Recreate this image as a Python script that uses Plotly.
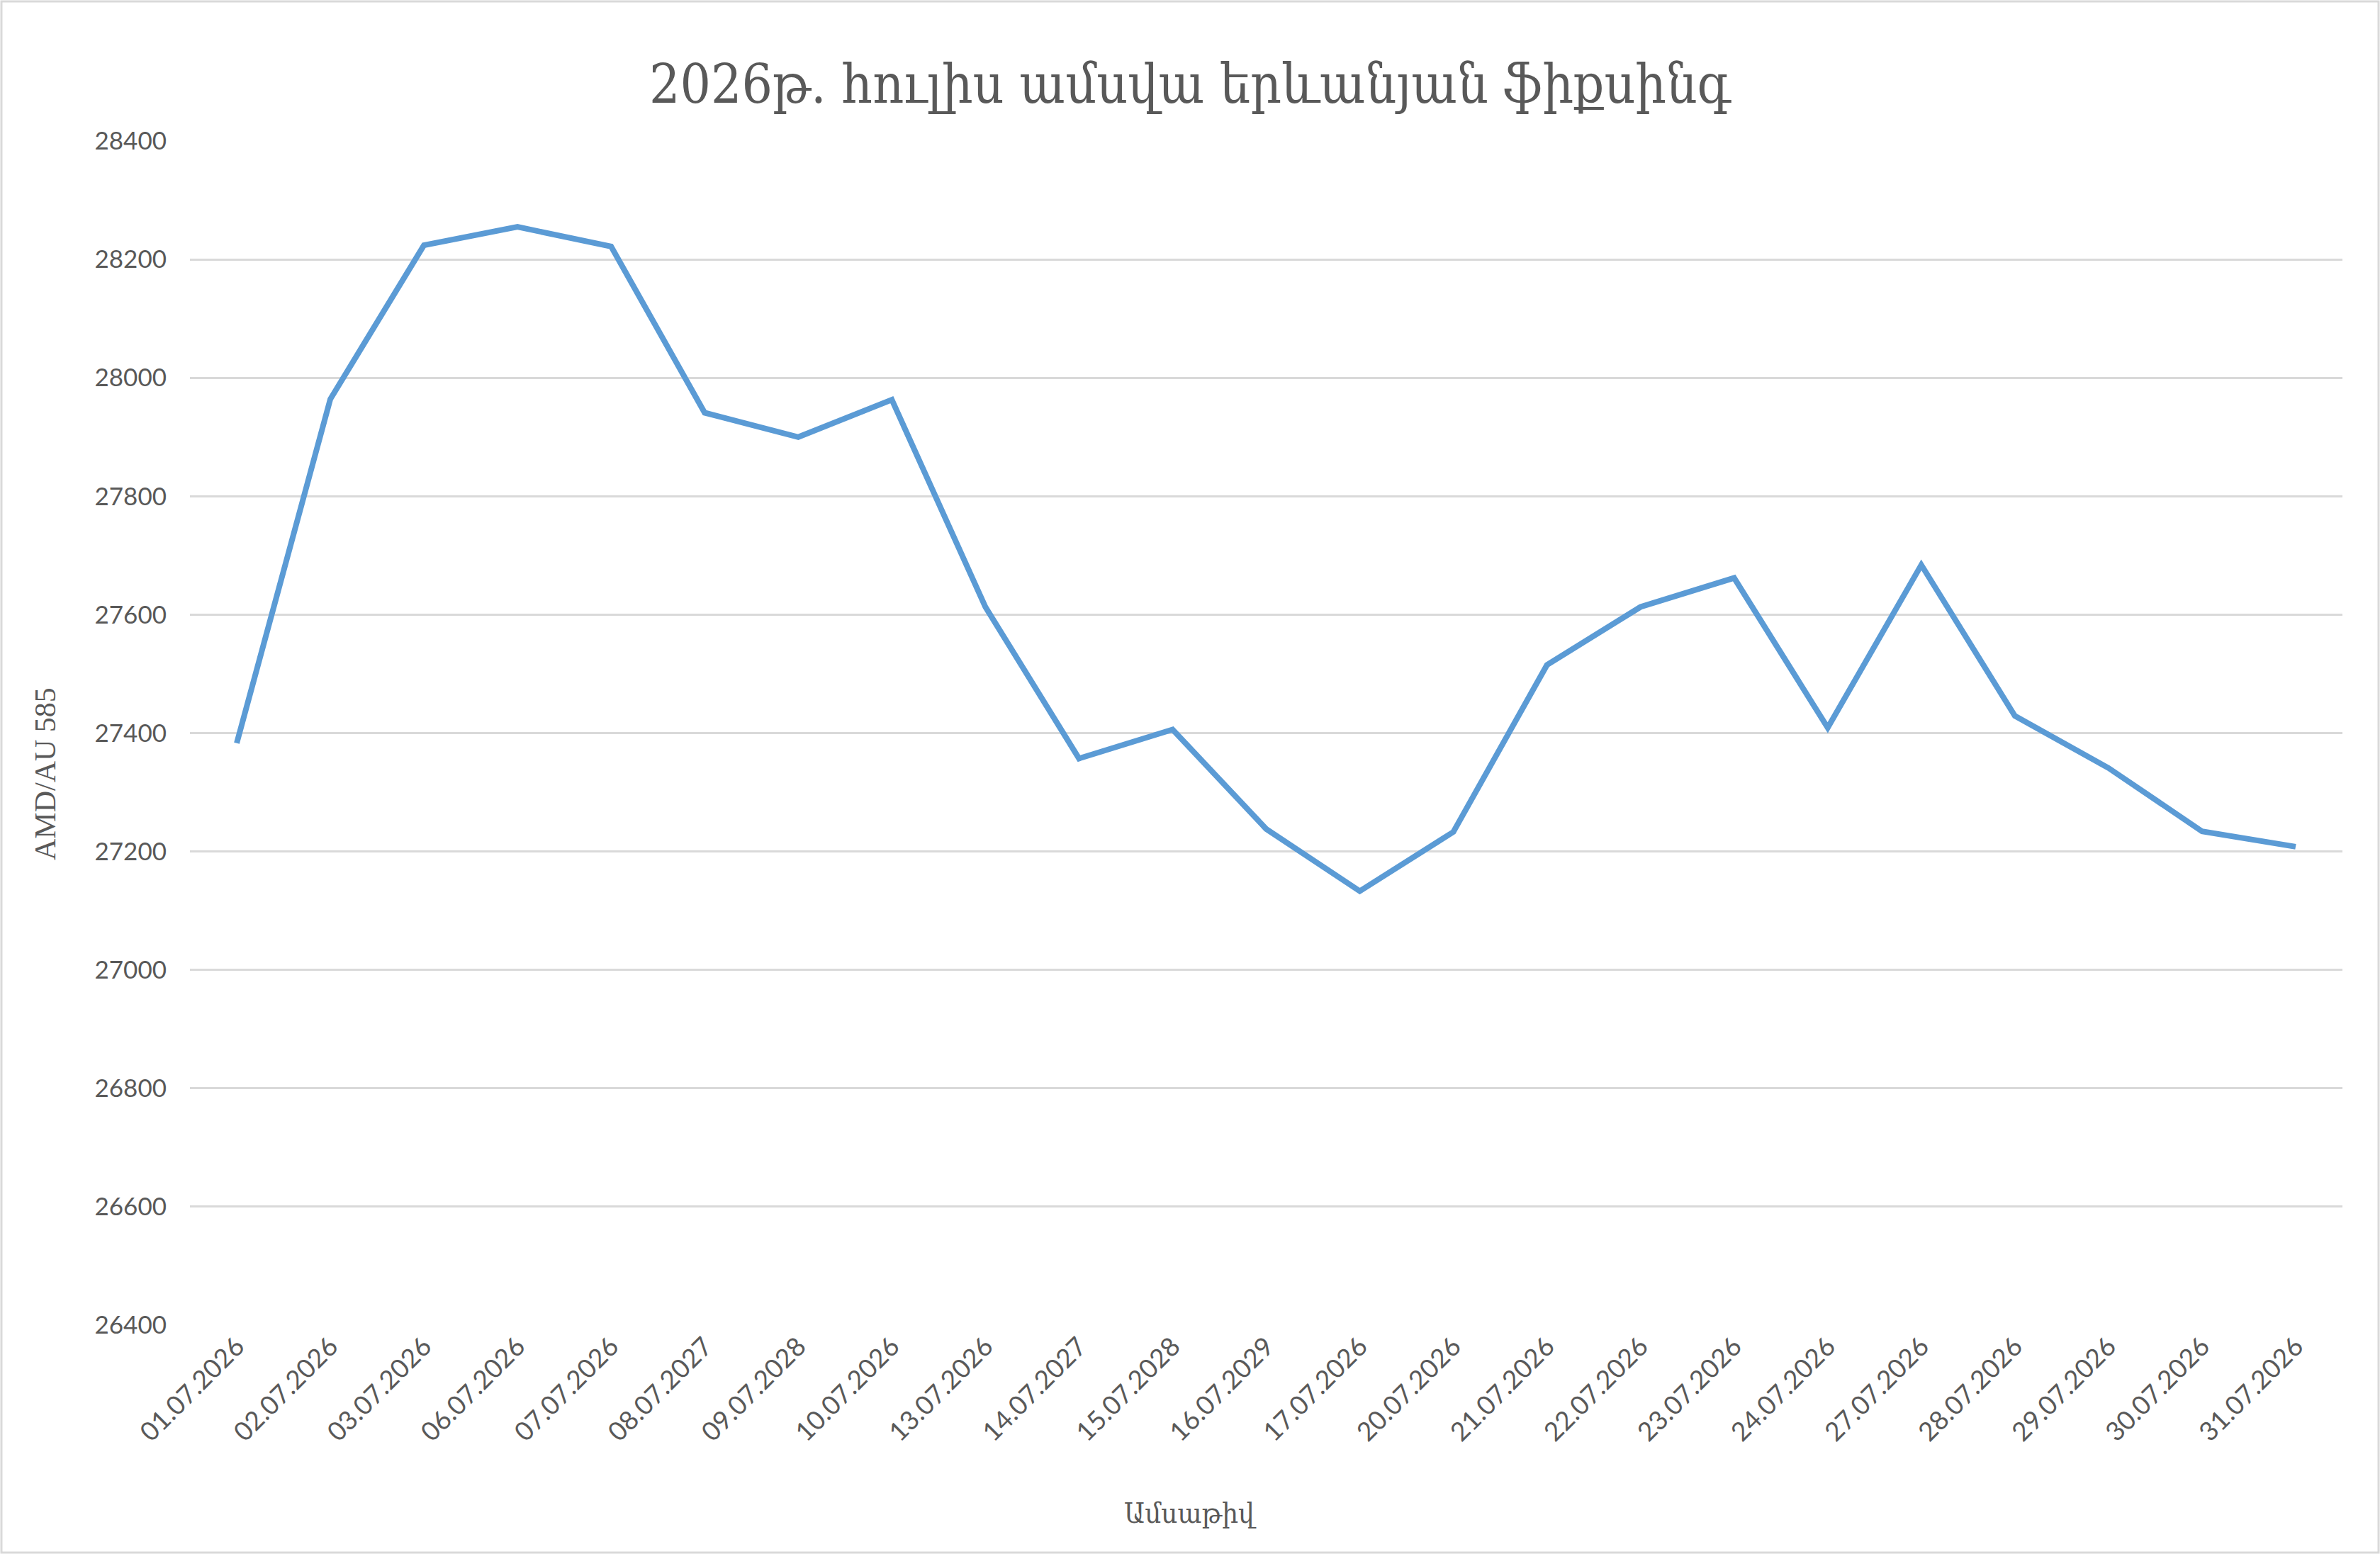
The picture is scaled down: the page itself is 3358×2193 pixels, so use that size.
import plotly.graph_objects as go

# dates as they appear on the chart (category axis)
dates = ['01.07.2026', '02.07.2026', '03.07.2026', '06.07.2026', '07.07.2026',
         '08.07.2027', '09.07.2028', '10.07.2026', '13.07.2026', '14.07.2027',
         '15.07.2028', '16.07.2029', '17.07.2026', '20.07.2026', '21.07.2026',
         '22.07.2026', '23.07.2026', '24.07.2026', '27.07.2026', '28.07.2026',
         '29.07.2026', '30.07.2026', '31.07.2026']

# AMD per gram AU 585
fixing = [27383, 27964, 28224, 28255, 28222,
          27941, 27900, 27963, 27613, 27357,
          27406, 27238, 27133, 27233, 27515,
          27613, 27662, 27409, 27684, 27429,
          27341, 27234, 27208]

y_ticks = [26400, 26600, 26800, 27000, 27200, 27400, 27600, 27800, 28000, 28200, 28400]

title_text = '2026թ. հուլիս ամսվա երևանյան ֆիքսինգ'
x_title = 'Ամսաթիվ'
y_title = 'AMD/AU 585'

W, H = 3358, 2193
ml, mr, mt, mb = 268, 53, 199, 323
pw = W - ml - mr
ph = H - mt - mb

grey = '#595959'
serif = 'DejaVu Serif Condensed, DejaVu Serif, serif'

fig = go.Figure()
fig.add_trace(go.Scatter(x=dates, y=fixing, mode='lines',
                         line=dict(color='#5B9BD5', width=8),
                         showlegend=False))

fig.update_layout(
    width=W, height=H,
    margin=dict(l=ml, r=mr, t=mt, b=mb),
    paper_bgcolor='white', plot_bgcolor='white',
    title=dict(text=title_text, x=0.5, xref='container', xanchor='center',
               y=1 - 118 / H, yanchor='middle',
               font=dict(family=serif, size=76, color=grey)),
)

fig.update_xaxes(type='category', range=[-0.5, len(dates) - 0.5],
                 showgrid=False, showline=False, zeroline=False,
                 ticks='', tickangle=-45,
                 tickfont=dict(family='Lato', size=37, color=grey))

fig.update_yaxes(range=[y_ticks[0], y_ticks[-1]], tickvals=y_ticks, tickformat='d',
                 showgrid=True, gridcolor='#D9D9D9', gridwidth=2.5,
                 zeroline=False, showline=False, ticks='',
                 ticklabelstandoff=32,
                 tickfont=dict(family='Lato', size=35, color=grey))

# axis titles (Excel puts them off-centre from the plot area)
fig.add_annotation(text=y_title, textangle=-90, showarrow=False,
                   xref='paper', yref='paper',
                   x=(64 - ml) / pw, y=(H - mb - 1092) / ph,
                   xanchor='center', yanchor='middle',
                   font=dict(family='Liberation Serif, serif', size=42, color=grey))
fig.add_annotation(text=x_title, showarrow=False,
                   xref='paper', yref='paper',
                   x=(W / 2 - ml) / pw, y=(H - mb - 2135) / ph,
                   xanchor='center', yanchor='middle',
                   font=dict(family=serif, size=40, color=grey))

# chart area border
fig.add_shape(type='rect', xref='paper', yref='paper',
              x0=(2 - ml) / pw, x1=(W - 2 - ml) / pw,
              y0=(H - mb - (H - 2)) / ph, y1=(H - mb - 2) / ph,
              line=dict(color='#D9D9D9', width=3), fillcolor='rgba(0,0,0,0)',
              layer='below')

fig.write_html('out.html', config={'displayModeBar': False},
               post_script="document.body.style.margin='0';")
